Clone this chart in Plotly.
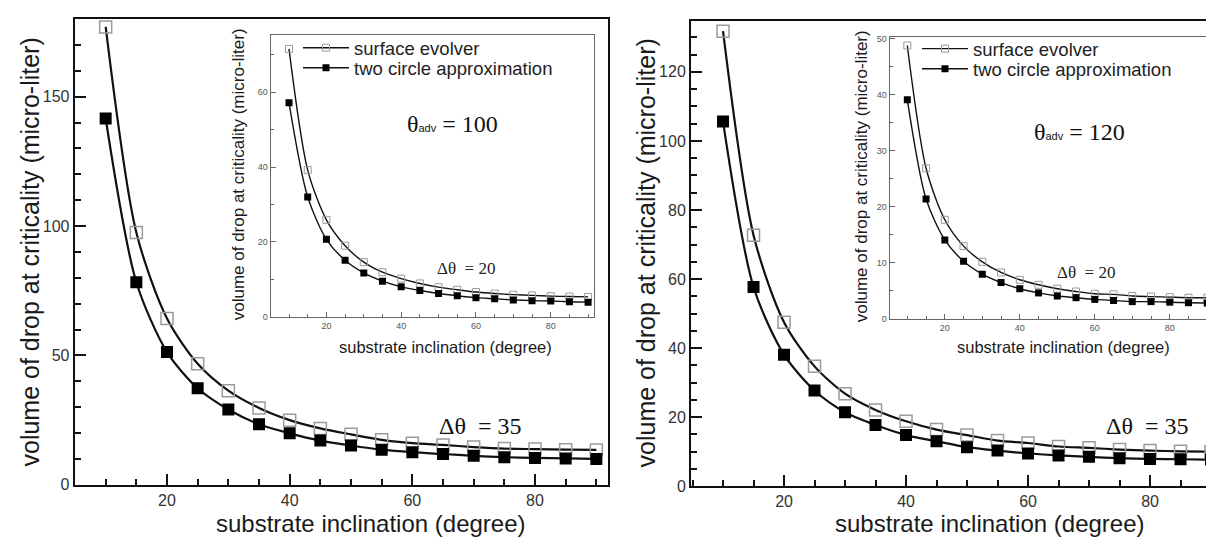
import plotly.graph_objects as go

W, H = 1214, 539
SANS = "Liberation Sans, Arial, sans-serif"
SERIF = "Liberation Serif, Times New Roman, serif"

# ---------------- data ----------------
incl = [10, 15, 20, 25, 30, 35, 40, 45, 50, 55, 60, 65, 70, 75, 80, 85, 90]

# theta_adv = 100, delta theta = 35 (main left)
left_se = [177, 97.5, 64.3, 46.8, 36.4, 29.7, 25.0, 21.8, 19.5, 17.4, 16.1, 15.4, 14.6, 14.0, 13.8, 13.6, 13.5]
left_tc = [141.6, 78.3, 51.3, 37.3, 29.1, 23.4, 19.9, 17.1, 15.2, 13.6, 12.6, 11.9, 11.2, 10.7, 10.4, 10.2, 10.0]
# theta_adv = 100, delta theta = 20 (inset left)
lin_se = [71.6, 39.2, 25.9, 19.0, 14.6, 11.9, 10.2, 8.9, 7.9, 7.2, 6.6, 6.2, 5.9, 5.7, 5.5, 5.4, 5.3]
lin_tc = [57.2, 32.0, 20.7, 15.1, 11.7, 9.5, 8.0, 7.0, 6.2, 5.6, 5.1, 4.8, 4.5, 4.3, 4.2, 4.0, 3.9]
# theta_adv = 120, delta theta = 35 (main right)
right_se = [131.8, 72.7, 47.5, 34.7, 26.8, 22.1, 18.8, 16.4, 14.8, 13.2, 12.5, 11.5, 11.1, 10.6, 10.3, 10.1, 10.0]
right_tc = [105.6, 57.7, 38.1, 27.7, 21.4, 17.7, 14.8, 13.0, 11.3, 10.3, 9.5, 8.9, 8.5, 8.1, 7.9, 7.8, 7.7]
# theta_adv = 120, delta theta = 20 (inset right)
rin_se = [48.8, 26.9, 17.7, 13.0, 10.2, 8.3, 7.0, 6.1, 5.4, 4.9, 4.5, 4.4, 4.1, 4.0, 3.9, 3.8, 3.8]
rin_tc = [39.1, 21.4, 14.1, 10.3, 8.0, 6.5, 5.4, 4.65, 4.1, 3.8, 3.5, 3.3, 3.1, 3.1, 3.0, 2.9, 2.85]

names = ["surface evolver", "two circle approximation"]
xtitle = "substrate inclination (degree)"
ytitle = "volume of drop at criticality (micro-liter)"


def px(x):
    return x / W


def py(y):
    return 1 - y / H


fig = go.Figure()


def add_pair(se, tc, xa, ya, main, legends=None):
    if main:
        lw, ms, mlw = 2.2, 12, 1.5
    else:
        lw, ms, mlw = 1.4, 7, 1.0
    show = legends is not None
    fig.add_trace(go.Scatter(
        x=incl, y=se, mode="lines+markers", name=names[0],
        line=dict(color="#111", width=lw, shape="spline", smoothing=0.8),
        marker=dict(symbol="square-open", size=ms, color="#9a9a9a", line=dict(width=mlw)),
        xaxis=xa, yaxis=ya, showlegend=show,
        legend=legends[0] if show else "legend"))
    fig.add_trace(go.Scatter(
        x=incl, y=tc, mode="lines+markers", name=names[1],
        line=dict(color="#111", width=lw, shape="spline", smoothing=0.8),
        marker=dict(symbol="square", size=ms, color="#000"),
        xaxis=xa, yaxis=ya, showlegend=show,
        legend=legends[1] if show else "legend"))


add_pair(left_se, left_tc, "x", "y", True)
add_pair(lin_se, lin_tc, "x2", "y2", False, ("legend", "legend2"))
add_pair(right_se, right_tc, "x3", "y3", True)
add_pair(rin_se, rin_tc, "x4", "y4", False, ("legend3", "legend4"))


def main_axis(rng, dom, dtick, mdtick, anchor, mirror=True):
    return dict(range=rng, domain=dom, anchor=anchor, showline=True, linewidth=2,
                linecolor="#111", mirror=mirror, ticks="inside", ticklen=11, tickwidth=2,
                tickcolor="#111", dtick=dtick, tick0=0, showgrid=False, zeroline=False,
                minor=dict(ticks="inside", ticklen=6, tickwidth=1.5, tickcolor="#111", dtick=mdtick),
                tickfont=dict(size=16, color="#333", family=SANS))


def inset_axis(rng, dom, dtick, mdtick, anchor):
    return dict(range=rng, domain=dom, anchor=anchor, showline=True, linewidth=1.3,
                linecolor="#666", mirror=True, ticks="inside", ticklen=5, tickwidth=1,
                tickcolor="#666", dtick=dtick, tick0=0, showgrid=False, zeroline=False,
                minor=dict(ticks="inside", ticklen=3, tickwidth=1, tickcolor="#666", dtick=mdtick),
                tickfont=dict(size=9, color="#555", family=SANS))


def leg(x, y):
    return dict(x=px(x), y=py(y), xanchor="left", yanchor="middle", bgcolor="rgba(0,0,0,0)",
                font=dict(size=18.5, family=SANS, color="#222"), itemwidth=46,
                borderwidth=0)


fig.update_layout(
    width=W, height=H, margin=dict(l=0, r=0, t=0, b=0),
    paper_bgcolor="white", plot_bgcolor="white",
    xaxis=main_axis([4.95, 91.9], [px(66.7), px(600)], 20, 5, "y"),
    yaxis=main_axis([0, 180], [py(484.6), py(8.3)], 50, 10, "x"),
    xaxis2=inset_axis([5.1, 91.5], [px(262.7), px(585.7)], 20, 5, "y2"),
    yaxis2=inset_axis([0, 75.2], [py(312.7), py(25)], 20, 10, "x2"),
    xaxis3=main_axis([4.75, 91.8], [px(683), 1.0], 20, 5, "y3"),
    yaxis3=main_axis([0, 134.6], [py(486), py(10.7)], 20, 5, "x3", mirror=False),
    xaxis4=inset_axis([5.3, 91.8], [px(881.7), px(1206)], 20, 5, "y4"),
    yaxis4=inset_axis([0, 50.3], [py(315), py(26.7)], 10, 5, "x4"),
    legend=leg(290, 38),
    legend2=leg(290, 58.5),
    legend3=leg(909, 39),
    legend4=leg(909, 59.5),
)

ann = []


def txt(x, y, s, size, family=SANS, angle=0, color="#1a1a1a"):
    ann.append(dict(x=px(x), y=py(y), xref="paper", yref="paper", text=s, showarrow=False,
                    textangle=angle, xanchor="center", yanchor="middle",
                    font=dict(size=size, family=family, color=color)))


# main axis titles
txt(22, 247, ytitle, 25, angle=-90)
txt(638, 248, ytitle, 25, angle=-90)
txt(363, 524, xtitle, 24)
txt(982, 524, xtitle, 24)
# inset axis titles
txt(230, 167, ytitle, 17, angle=-90)
txt(853, 169, ytitle, 17, angle=-90)
txt(437, 344, xtitle, 16.5)
txt(1055, 344, xtitle, 16.5)

sub = "<span style='font-size:11px;font-family:Liberation Sans, Arial, sans-serif'>adv</span>"
txt(444, 116, "θ" + sub + " = 100", 24, family=SERIF, color="#111")
txt(1071, 124, "θ" + sub + " = 120", 24, family=SERIF, color="#111")
txt(458, 263, "Δθ\u00a0 = 20", 17, family=SERIF, color="#222")
txt(1078, 267, "Δθ\u00a0 = 20", 17, family=SERIF, color="#222")
txt(472, 424, "Δθ\u00a0 = 35", 24, family=SERIF, color="#111")
txt(1139, 424, "Δθ\u00a0 = 35", 24, family=SERIF, color="#111")

fig.update_layout(annotations=ann)

fig.write_html("out.html")
